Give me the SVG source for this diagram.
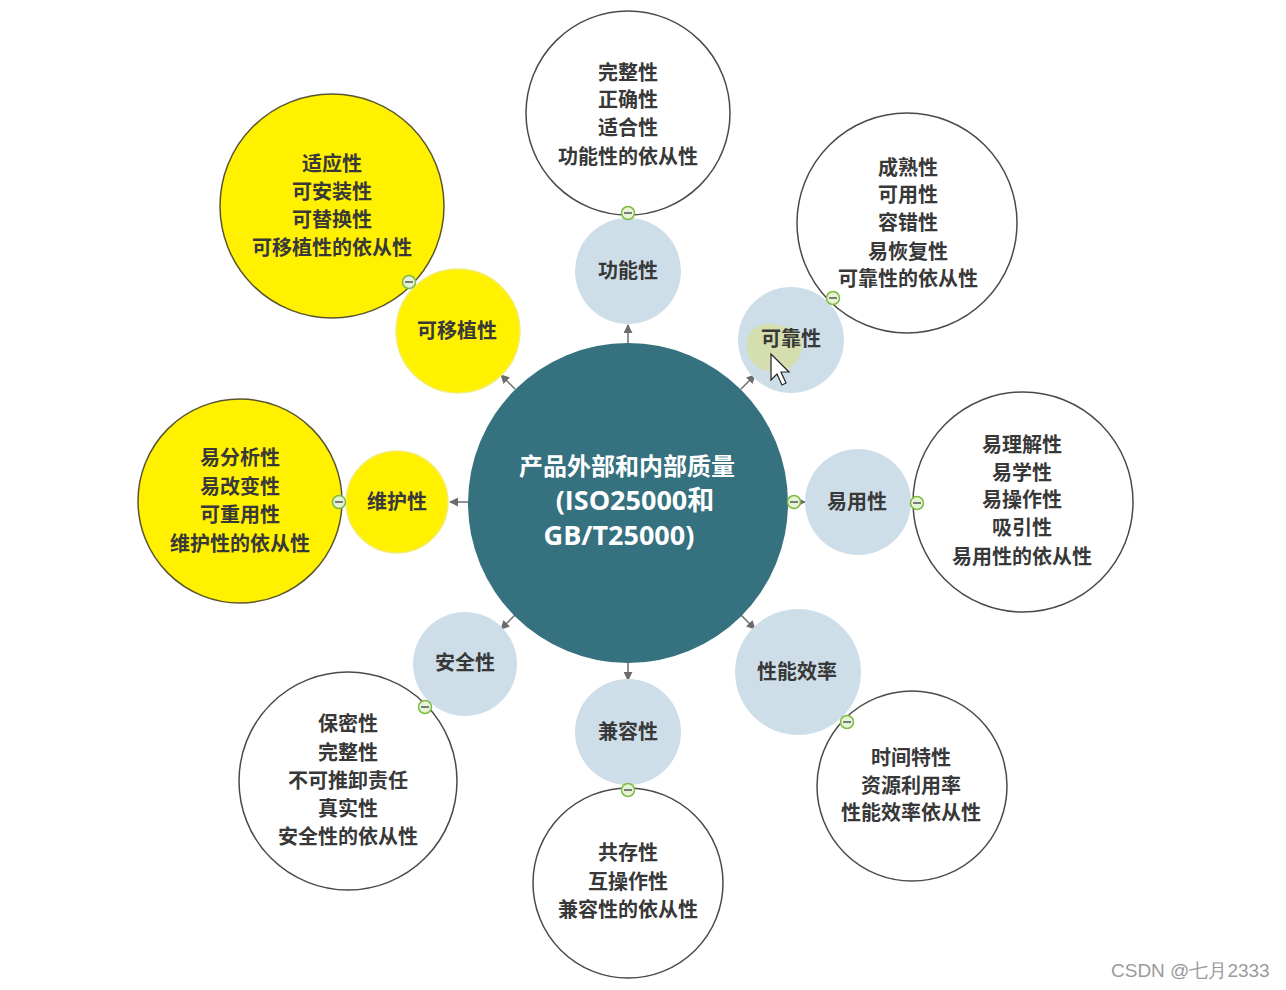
<svg xmlns="http://www.w3.org/2000/svg" width="1286" height="990" viewBox="0 0 1286 990">
<style>
.bg{fill:#ffffff}
.core{fill:#36717F}
.blue{fill:#CEDEE9}
.yel{fill:#FFF100;stroke:#F2EC7A;stroke-width:1.5}
.det{fill:#ffffff;stroke:#4a4a4a;stroke-width:1.5}
.ydet{fill:#FFF100;stroke:#5a5530;stroke-width:1.5}
.t{font-family:"Noto Sans CJK SC","Noto Sans CJK JP",sans-serif;font-weight:bold;font-size:20px;fill:#383838;text-anchor:middle;dominant-baseline:central;transform:translateY(-1.5px)}
.ct{font-family:"Open Sans","Noto Sans CJK SC",sans-serif;font-weight:bold;fill:#ffffff;text-anchor:middle;dominant-baseline:central}
.conn{stroke:#6b6b6b;stroke-width:1.5;fill:none}
.tog circle{fill:#E6F3D6;stroke:#7DBB42;stroke-width:1.5}
.tog line{stroke:#555;stroke-width:1.5}
.wm{font-family:"Liberation Sans",Arial,sans-serif;font-size:19px;fill:#9a9a9a}
</style>
<defs>
<marker id="arr" viewBox="0 0 10 10" refX="9" refY="5" markerWidth="9" markerHeight="9" markerUnits="userSpaceOnUse" orient="auto">
<path d="M0,0 L10,5 L0,10 z" fill="#6b6b6b"/>
</marker>
</defs>
<rect class="bg" x="0" y="0" width="1286" height="990"/>

<g id="connectors">
<line class="conn" x1="628" y1="343" x2="628" y2="325" marker-end="url(#arr)"/>
<line class="conn" x1="741" y1="389" x2="755" y2="375" marker-end="url(#arr)"/>
<line class="conn" x1="788" y1="502" x2="805" y2="502" marker-end="url(#arr)"/>
<line class="conn" x1="741" y1="615" x2="755" y2="629" marker-end="url(#arr)"/>
<line class="conn" x1="628" y1="662" x2="628" y2="680" marker-end="url(#arr)"/>
<line class="conn" x1="515" y1="615" x2="501" y2="629" marker-end="url(#arr)"/>
<line class="conn" x1="468" y1="502" x2="450" y2="502" marker-end="url(#arr)"/>
<line class="conn" x1="515" y1="389" x2="501" y2="375" marker-end="url(#arr)"/>
</g>

<g id="center">
<circle class="core" cx="628" cy="503" r="160"/>
<text class="ct" x="627" y="465" font-size="24">产品外部和内部质量</text>
<text class="ct" x="635" y="499" font-size="27">(ISO25000和</text>
<text class="ct" x="619" y="534" font-size="27">GB/T25000)</text>
</g>

<g id="gongneng">
<circle class="blue" cx="628" cy="271" r="53"/>
<text class="t" x="628" y="271">功能性</text>
</g>
<g id="gongneng-detail">
<circle class="det" cx="628" cy="113" r="102"/>
<text class="t" x="628" y="73">完整性</text>
<text class="t" x="628" y="100">正确性</text>
<text class="t" x="628" y="128">适合性</text>
<text class="t" x="628" y="157">功能性的依从性</text>
</g>

<g id="kekao">
<circle class="blue" cx="791" cy="340" r="53"/>
<path d="M752,330 q12,-10 30,-4 q22,2 20,22 q-4,22 -26,24 q-22,0 -28,-18 q-4,-14 4,-24z" fill="#D6DEA4" opacity="0.85"/>
<text class="t" x="791" y="339">可靠性</text>
<path d="M771,354 L771,380 L777,374 L782,385 L786,383 L781,372 L789,372 Z" fill="#ffffff" stroke="#222" stroke-width="1.2"/>
</g>
<g id="kekao-detail">
<circle class="det" cx="907" cy="223" r="110"/>
<text class="t" x="908" y="168">成熟性</text>
<text class="t" x="908" y="195">可用性</text>
<text class="t" x="908" y="223">容错性</text>
<text class="t" x="908" y="252">易恢复性</text>
<text class="t" x="908" y="279">可靠性的依从性</text>
</g>

<g id="yiyong">
<circle class="blue" cx="858" cy="502" r="53"/>
<text class="t" x="857" y="502">易用性</text>
</g>
<g id="yiyong-detail">
<circle class="det" cx="1023" cy="502" r="110"/>
<text class="t" x="1022" y="445">易理解性</text>
<text class="t" x="1022" y="473">易学性</text>
<text class="t" x="1022" y="500">易操作性</text>
<text class="t" x="1022" y="528">吸引性</text>
<text class="t" x="1022" y="557">易用性的依从性</text>
</g>

<g id="xingneng">
<circle class="blue" cx="798" cy="672" r="63"/>
<text class="t" x="797" y="672">性能效率</text>
</g>
<g id="xingneng-detail">
<circle class="det" cx="912" cy="786" r="95"/>
<text class="t" x="911" y="758">时间特性</text>
<text class="t" x="911" y="786">资源利用率</text>
<text class="t" x="911" y="813">性能效率依从性</text>
</g>

<g id="jianrong">
<circle class="blue" cx="628" cy="732" r="53"/>
<text class="t" x="628" y="732">兼容性</text>
</g>
<g id="jianrong-detail">
<circle class="det" cx="628" cy="883" r="95"/>
<text class="t" x="628" y="853">共存性</text>
<text class="t" x="628" y="882">互操作性</text>
<text class="t" x="628" y="910">兼容性的依从性</text>
</g>

<g id="anquan">
<circle class="blue" cx="465" cy="664" r="52"/>
<text class="t" x="465" y="663">安全性</text>
</g>
<g id="anquan-detail">
<circle class="det" cx="348" cy="781" r="109"/>
<text class="t" x="348" y="724">保密性</text>
<text class="t" x="348" y="753">完整性</text>
<text class="t" x="348" y="781">不可推卸责任</text>
<text class="t" x="348" y="809">真实性</text>
<text class="t" x="348" y="837">安全性的依从性</text>
</g>

<g id="weihu">
<circle class="yel" cx="397" cy="502" r="51"/>
<text class="t" x="397" y="502">维护性</text>
</g>
<g id="weihu-detail">
<circle class="ydet" cx="240" cy="501" r="102"/>
<text class="t" x="240" y="458">易分析性</text>
<text class="t" x="240" y="487">易改变性</text>
<text class="t" x="240" y="515">可重用性</text>
<text class="t" x="240" y="544">维护性的依从性</text>
</g>

<g id="yizhi">
<circle class="yel" cx="458" cy="331" r="62"/>
<text class="t" x="457" y="331">可移植性</text>
</g>
<g id="yizhi-detail">
<circle class="ydet" cx="332" cy="206" r="112"/>
<text class="t" x="332" y="164">适应性</text>
<text class="t" x="332" y="192">可安装性</text>
<text class="t" x="332" y="220">可替换性</text>
<text class="t" x="332" y="248">可移植性的依从性</text>
</g>

<g id="toggles" class="tog">
<g><circle cx="628" cy="213" r="6.5"/><line x1="624" y1="213" x2="632" y2="213"/></g>
<g><circle cx="833" cy="298" r="6.5"/><line x1="829" y1="298" x2="837" y2="298"/></g>
<g><circle cx="794" cy="502" r="6.5"/><line x1="790" y1="502" x2="798" y2="502"/></g>
<g><circle cx="917" cy="503" r="6.5"/><line x1="913" y1="503" x2="921" y2="503"/></g>
<g><circle cx="847" cy="722" r="6.5"/><line x1="843" y1="722" x2="851" y2="722"/></g>
<g><circle cx="628" cy="790" r="6.5"/><line x1="624" y1="790" x2="632" y2="790"/></g>
<g><circle cx="425" cy="707" r="6.5"/><line x1="421" y1="707" x2="429" y2="707"/></g>
<g><circle cx="339" cy="502" r="6.5"/><line x1="335" y1="502" x2="343" y2="502"/></g>
<g><circle cx="409" cy="282" r="6.5"/><line x1="405" y1="282" x2="413" y2="282"/></g>
</g>

<text class="wm" x="1111" y="977">CSDN @七月2333</text>
</svg>
